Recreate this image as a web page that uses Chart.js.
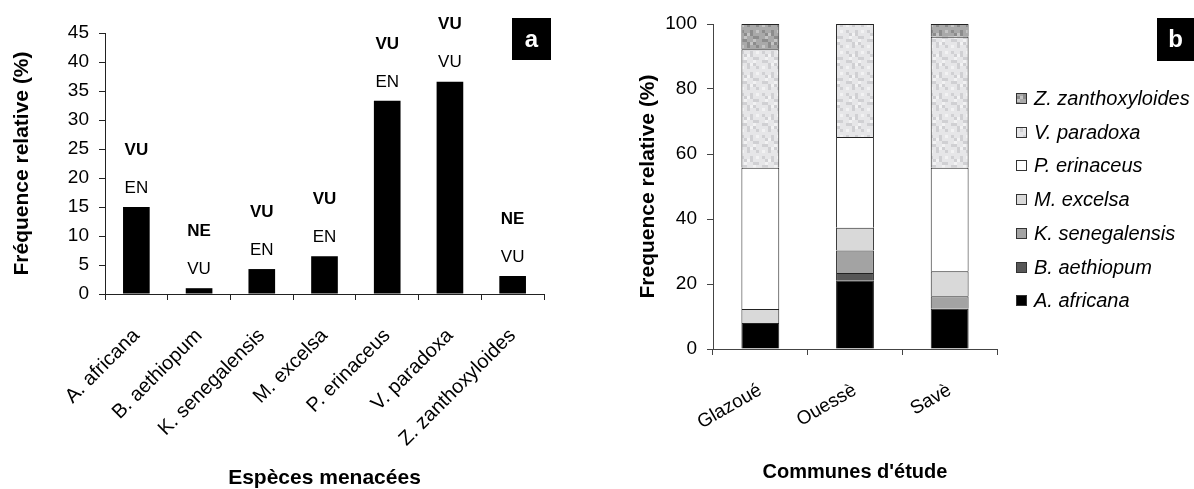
<!DOCTYPE html>
<html><head><meta charset="utf-8">
<script src="https://cdn.jsdelivr.net/npm/chart.js@4.4.0/dist/chart.umd.min.js"></script>
<style>
html,body{margin:0;padding:0;background:#fff;width:1194px;height:489px;overflow:hidden}
#ca{position:absolute;left:0;top:0}
#cb{position:absolute;left:600px;top:0}
</style></head><body>
<canvas id="ca" width="590" height="489"></canvas>
<canvas id="cb" width="594" height="489"></canvas>
<script>
// ---- Panel a data ----
const speciesLabels = ['A. africana', 'B. aethiopum', 'K. senegalensis', 'M. excelsa', 'P. erinaceus', 'V. paradoxa', 'Z. zanthoxyloides'];
const speciesFreq = [15.0, 1.0, 4.3, 6.5, 33.3, 36.6, 3.1];
const statusLower = ['EN', 'VU', 'EN', 'EN', 'EN', 'VU', 'VU'];
const statusUpper = ['VU', 'NE', 'VU', 'VU', 'VU', 'VU', 'NE'];
const yMaxA = 45;
const yStepA = 5;

// ---- Panel b data ----
const communes = ['Glazoué', 'Ouessè', 'Savè'];
const aAfricana = [8.0, 21.0, 12.4];
const bAethiopum = [0, 2.4, 0];
const kSenegalensis = [0, 6.9, 3.8];
const mExcelsa = [4.3, 7.0, 7.7];
const pErinaceus = [43.5, 27.9, 31.9];
const vParadoxa = [36.4, 34.8, 40.3];
const zZanthoxyloides = [7.8, 0, 3.9];
const yMaxB = 100;
const yStepB = 20;

const FONT = '"Liberation Sans", Arial, Helvetica, sans-serif';
const NARROW = '"Liberation Sans Narrow", "Liberation Sans", Arial, sans-serif';

function speckle(targetCtx, base, dark, light) {
  const c = document.createElement('canvas');
  c.width = 21; c.height = 21;
  const g = c.getContext('2d');
  g.fillStyle = base; g.fillRect(0, 0, 21, 21);
  for (let i = 0; i < 7; i++) {
    for (let j = 0; j < 7; j++) {
      const k = (i * 5 + j * 3 + i * j) % 7;
      if (k === 0 || k === 3) { g.fillStyle = dark; g.fillRect(i * 3, j * 3, 3, 3); }
      else if (k === 5) { g.fillStyle = light; g.fillRect(i * 3, j * 3, 3, 3); }
    }
  }
  return targetCtx.createPattern(c, 'repeat');
}

function letterBox(id, letter, x0, y0, w, h) {
  return {
    id: id,
    afterDraw(chart) {
      const ctx = chart.ctx;
      ctx.save();
      ctx.fillStyle = '#000';
      ctx.fillRect(x0, y0, w, h);
      ctx.fillStyle = '#fff';
      ctx.font = 'bold 24px ' + FONT;
      ctx.textAlign = 'center';
      ctx.textBaseline = 'middle';
      ctx.fillText(letter, x0 + w / 2, y0 + h / 2 + 1);
      ctx.restore();
    }
  };
}

// ---- status labels plugin for panel a ----
const statusPlugin = {
  id: 'statusLabels',
  afterDatasetsDraw(chart) {
    const ctx = chart.ctx;
    const meta = chart.getDatasetMeta(0);
    ctx.save();
    ctx.textAlign = 'center';
    ctx.textBaseline = 'middle';
    ctx.fillStyle = '#000';
    meta.data.forEach((bar, i) => {
      ctx.font = '17px ' + FONT;
      ctx.fillText(statusLower[i], bar.x, bar.y - 19);
      ctx.font = 'bold 17px ' + NARROW;
      ctx.fillText(statusUpper[i], bar.x, bar.y - 57);
    });
    ctx.restore();
  }
};

const ctxA = document.getElementById('ca').getContext('2d');
new Chart(ctxA, {
  type: 'bar',
  data: {
    labels: speciesLabels,
    datasets: [{
      data: speciesFreq,
      backgroundColor: '#000',
      borderWidth: 0,
      barPercentage: 0.425,
      categoryPercentage: 1.0
    }]
  },
  options: {
    responsive: false,
    animation: false,
    layout: { padding: { left: 0, right: 46, top: 33, bottom: 0 } },
    plugins: { legend: { display: false }, tooltip: { enabled: false } },
    scales: {
      x: {
        afterFit(s) { s.height = 195; },
        border: { color: '#222', width: 1 },
        grid: { drawOnChartArea: false, drawTicks: true, tickLength: 6, color: '#222', offset: true },
        ticks: {
          color: '#000', font: { family: FONT, size: 20 },
          maxRotation: 45, minRotation: 45, autoSkip: false, padding: 24
        },
        title: {
          display: true, text: 'Espèces menacées', color: '#000',
          font: { family: FONT, size: 21, weight: 'bold', lineHeight: 1 },
          padding: { top: 0, bottom: 0 }
        }
      },
      y: {
        min: 0, max: yMaxA,
        afterFit(s) { s.width = 105; },
        border: { color: '#222', width: 1 },
        grid: { drawOnChartArea: false, drawTicks: true, tickLength: 6, color: '#222' },
        ticks: { stepSize: yStepA, color: '#000', font: { family: FONT, size: 19 }, padding: 10 },
        title: {
          display: true, text: 'Fréquence relative (%)', color: '#000',
          font: { family: FONT, size: 21, weight: 'bold', lineHeight: 1 },
          padding: { top: 12, bottom: 0 }
        }
      }
    }
  },
  plugins: [statusPlugin, letterBox('boxA', 'a', 512, 18, 39, 42)]
});

// ---- panel b ----
const ctxB = document.getElementById('cb').getContext('2d');
const zPattern = speckle(ctxB, '#a9a9a9', '#8c8c8c', '#c4c4c4');
const vPattern = speckle(ctxB, '#e6e6e8', '#d0d0d3', '#f2f2f3');

const legendB = {
  id: 'legendB',
  afterDraw(chart) {
    const ctx = chart.ctx;
    const ds = chart.data.datasets;
    ctx.save();
    ctx.font = 'italic 20px ' + FONT;
    ctx.textBaseline = 'middle';
    ctx.textAlign = 'left';
    for (let n = 0; n < ds.length; n++) {
      const d = ds[ds.length - 1 - n];
      const y = Math.round(98 + n * 33.7);
      ctx.fillStyle = d.backgroundColor;
      ctx.fillRect(416, y - 5, 11, 11);
      ctx.strokeStyle = '#333';
      ctx.lineWidth = 1;
      ctx.strokeRect(416.5, y - 4.5, 10, 10);
      ctx.fillStyle = '#000';
      ctx.fillText(d.label, 434, y + 1);
    }
    ctx.restore();
  }
};

const common = { borderColor: '#222', borderWidth: 1, barPercentage: 0.4, categoryPercentage: 1.0 };
new Chart(ctxB, {
  type: 'bar',
  data: {
    labels: communes,
    datasets: [
      Object.assign({ label: 'A. africana', data: aAfricana, backgroundColor: '#000' }, common),
      Object.assign({ label: 'B. aethiopum', data: bAethiopum, backgroundColor: '#575757' }, common),
      Object.assign({ label: 'K. senegalensis', data: kSenegalensis, backgroundColor: '#a3a3a3' }, common),
      Object.assign({ label: 'M. excelsa', data: mExcelsa, backgroundColor: '#d9d9d9' }, common),
      Object.assign({ label: 'P. erinaceus', data: pErinaceus, backgroundColor: '#ffffff' }, common),
      Object.assign({ label: 'V. paradoxa', data: vParadoxa, backgroundColor: vPattern }, common),
      Object.assign({ label: 'Z. zanthoxyloides', data: zZanthoxyloides, backgroundColor: zPattern }, common)
    ]
  },
  options: {
    responsive: false,
    animation: false,
    layout: { padding: { left: 0, right: 197, top: 24, bottom: 0 } },
    plugins: { legend: { display: false }, tooltip: { enabled: false } },
    scales: {
      x: {
        stacked: true,
        afterFit(s) { s.height = 140; },
        border: { color: '#444', width: 1 },
        grid: { drawOnChartArea: false, drawTicks: true, tickLength: 6, color: '#444', offset: true },
        ticks: {
          color: '#000', font: { family: FONT, size: 19 },
          maxRotation: 30, minRotation: 30, autoSkip: false, padding: 24
        },
        title: {
          display: true, text: "Communes d'étude", color: '#000',
          font: { family: FONT, size: 20, weight: 'bold', lineHeight: 1 },
          padding: { top: 0, bottom: 7 }
        }
      },
      y: {
        stacked: true, min: 0, max: yMaxB,
        afterFit(s) { s.width = 113; },
        border: { color: '#444', width: 1 },
        grid: { drawOnChartArea: false, drawTicks: true, tickLength: 6, color: '#444' },
        ticks: { stepSize: yStepB, color: '#000', font: { family: FONT, size: 19 }, padding: 10 },
        title: {
          display: true, text: 'Frequence relative (%)', color: '#000',
          font: { family: FONT, size: 21, weight: 'bold', lineHeight: 1 },
          padding: { top: 38, bottom: 0 }
        }
      }
    }
  },
  plugins: [legendB, letterBox('boxB', 'b', 557, 18, 37, 43)]
});
</script>
</body></html>
